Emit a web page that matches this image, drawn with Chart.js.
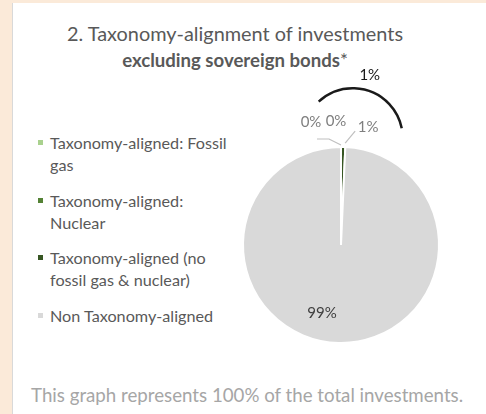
<!DOCTYPE html>
<html>
<head>
<meta charset="utf-8">
<script src="https://cdn.jsdelivr.net/npm/chart.js@4/dist/chart.umd.min.js"></script>
<style>
  html, body { margin: 0; padding: 0; }
  body { width: 486px; height: 414px; background: #fbead9; position: relative; overflow: hidden; font-family: Lato, sans-serif; }
  .card { position: absolute; left: 12px; top: 3px; right: 0; bottom: 0; background: #fff; border-left: 1px solid #d9d9d9; }
  .title { position: absolute; left: 0; width: 470px; text-align: center; color: #595959; white-space: nowrap; }
  .t1 { top: 21px; font-size: 19.9px; line-height: 24px; }
  .t2 { top: 49px; font-size: 18.6px; line-height: 22px; font-weight: bold; }
  .t2 span { font-weight: normal; }
  #legend { position: absolute; left: 38px; top: 132px; width: 200px; }
  .item { position: relative; padding-left: 12px; font-size: 16.2px; line-height: 22px; color: #595959; margin-bottom: 13.5px; white-space: nowrap; }
  .item i { position: absolute; left: 0; top: 8px; width: 5px; height: 5px; }
  .note { position: absolute; left: 31px; top: 384px; font-size: 18.7px; line-height: 22px; color: #a6a6a6; white-space: nowrap; }
  canvas { position: absolute; left: 0; top: 0; }
</style>
</head>
<body>
<div class="card"></div>
<div class="title t1">2. Taxonomy-alignment of investments</div>
<div class="title t2">excluding sovereign bonds<span>*</span></div>
<div id="legend"></div>
<div class="note">This graph represents 100% of the total investments.</div>
<canvas id="pie" width="486" height="414"></canvas>
<script>
// categories and values (percent of investments excl. sovereign bonds)
const categories = [
  'Taxonomy-aligned: Fossil gas',
  'Taxonomy-aligned: Nuclear',
  'Taxonomy-aligned (no fossil gas & nuclear)',
  'Non Taxonomy-aligned'
];
// legend lines as they wrap in the picture
const legendLines = [
  ['Taxonomy-aligned: Fossil', 'gas'],
  ['Taxonomy-aligned:', 'Nuclear'],
  ['Taxonomy-aligned (no', 'fossil gas & nuclear)'],
  ['Non Taxonomy-aligned']
];
const values = [0, 0, 0.7, 99.3];
const colors = ['#a9d18e', '#548235', '#375623', '#d9d9d9'];

// html legend
const legendEl = document.getElementById('legend');
legendLines.forEach((lines, i) => {
  const d = document.createElement('div');
  d.className = 'item';
  d.innerHTML = '<i style="background:' + colors[i] + '"></i>' + lines.join('<br>');
  legendEl.appendChild(d);
});

function pct(v) { return Math.round(v) + '%'; }

// label placement for the small slices, relative to the rim point (not data)
const outsideLabels = [
  { dx: -30, dy: -25, leader: [[0, -2], [-12, -8], [-24, -8]] },
  { dx: -5, dy: -26, leader: null },
  { dx: 25, dy: -20, leader: [[2, -4], [12, -16]] }
];

const labelPlugin = {
  id: 'pieLabels',
  afterDatasetsDraw(chart) {
    const ctx = chart.ctx;
    const arcs = chart.getDatasetMeta(0).data;
    ctx.save();
    ctx.font = '15px Lato';
    ctx.textAlign = 'center';
    ctx.textBaseline = 'middle';
    let cx, cy, r;
    arcs.forEach((arc, i) => {
      const p = arc.getProps(['x', 'y', 'startAngle', 'endAngle', 'outerRadius']);
      cx = p.x; cy = p.y; r = p.outerRadius;
      const mid = (p.startAngle + p.endAngle) / 2;
      if (i < outsideLabels.length) {
        const ax = p.x + Math.cos(mid) * r;
        const ay = p.y + Math.sin(mid) * r;
        const o = outsideLabels[i];
        if (o.leader) {
          ctx.strokeStyle = '#bfbfbf';
          ctx.lineWidth = 1.2;
          ctx.beginPath();
          o.leader.forEach((pt, k) => {
            if (k === 0) ctx.moveTo(ax + pt[0], ay + pt[1]);
            else ctx.lineTo(ax + pt[0], ay + pt[1]);
          });
          ctx.stroke();
        }
        ctx.fillStyle = '#7f7f7f';
        ctx.fillText(pct(values[i]), ax + o.dx, ay + o.dy);
      } else {
        ctx.fillStyle = '#404040';
        const a = mid + 0.25;
        ctx.fillText(pct(values[i]), p.x + Math.cos(a) * r * 0.72, p.y + Math.sin(a) * r * 0.72);
      }
    });
    // bracket arc over the aligned share, with its total
    const bx = cx + r * 0.12, by = cy - r * 1.09, br = r * 0.51;
    ctx.strokeStyle = '#1a1a1a';
    ctx.lineWidth = 2.5;
    ctx.beginPath();
    ctx.arc(bx, by, br, -133 * Math.PI / 180, -11.5 * Math.PI / 180);
    ctx.stroke();
    const aligned = values[0] + values[1] + values[2];
    ctx.fillStyle = '#1a1a1a';
    ctx.fillText(pct(aligned), bx + 17, by - br - 13);
    ctx.restore();
  }
};

new Chart(document.getElementById('pie').getContext('2d'), {
  type: 'pie',
  data: {
    labels: categories,
    datasets: [{
      data: values,
      backgroundColor: colors,
      borderColor: '#ffffff',
      borderWidth: 2
    }]
  },
  options: {
    responsive: false,
    animation: false,
    layout: { padding: { left: 242, right: 46, top: 146, bottom: 70 } },
    plugins: {
      legend: { display: false },
      tooltip: { enabled: false }
    }
  },
  plugins: [labelPlugin]
});
</script>
</body>
</html>
